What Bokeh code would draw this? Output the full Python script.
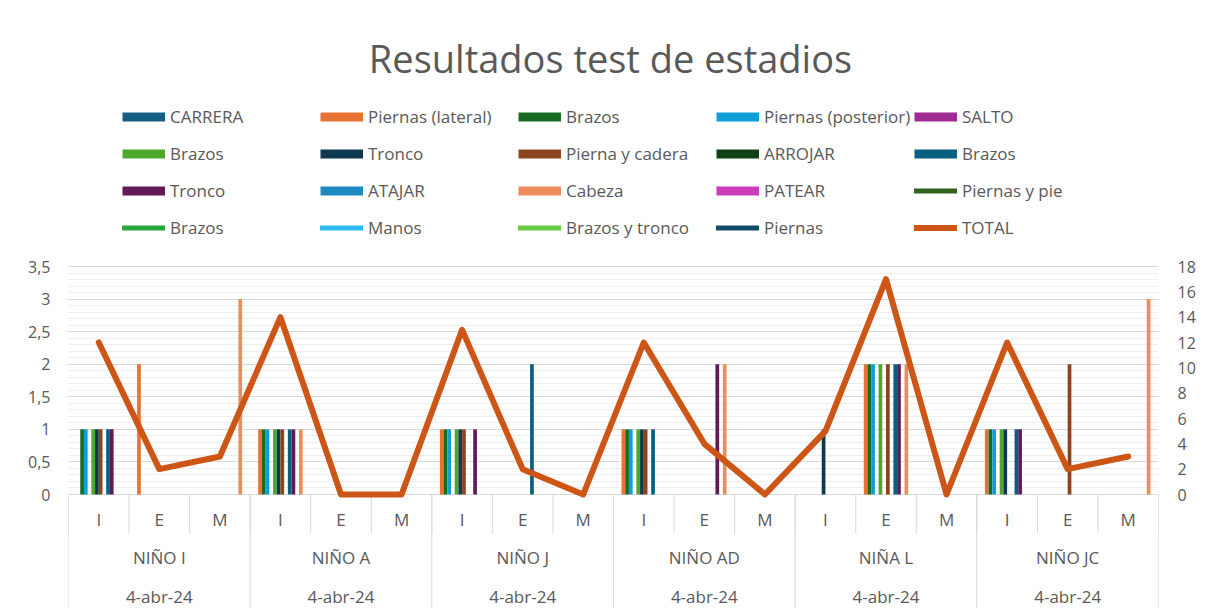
from bokeh.plotting import figure
from bokeh.models import (Range1d, LinearAxis, FixedTicker, Grid, Legend, LegendItem,
                          ColumnDataSource, Label)
from bokeh.core.properties import value
from bokeh.transform import dodge
from bokeh.embed import file_html
from bokeh.resources import INLINE

# ---------------- data ----------------
title_text = "Resultados test de estadios"
children = ["NIÑO I", "NIÑO A", "NIÑO J", "NIÑO AD", "NIÑA L", "NIÑO JC"]
dates = ["4-abr-24", "4-abr-24", "4-abr-24", "4-abr-24", "4-abr-24", "4-abr-24"]
stages = ["I", "E", "M"]

bar_names = ["CARRERA", "Piernas (lateral)", "Brazos", "Piernas (posterior)", "SALTO",
             "Brazos", "Tronco", "Pierna y cadera", "ARROJAR", "Brazos",
             "Tronco", "ATAJAR", "Cabeza", "PATEAR"]
bar_colors = ["#156082", "#E97132", "#196B24", "#0F9ED5", "#A02B93",
              "#4EA72E", "#0D3A4E", "#8C441E", "#0F4016", "#095F80",
              "#601A58", "#1F89C1", "#EE8D5B", "#CB3DBB"]

#                I  E  M   I  E  M   I  E  M   I  E  M   I  E  M   I  E  M
carrera       = [0, 0, 0,  0, 0, 0,  0, 0, 0,  0, 0, 0,  0, 0, 0,  0, 0, 0]
piernas_lat   = [0, 2, 0,  1, 0, 0,  1, 0, 0,  1, 0, 0,  0, 2, 0,  1, 0, 0]
brazos_1      = [1, 0, 0,  1, 0, 0,  1, 0, 0,  1, 0, 0,  0, 2, 0,  1, 0, 0]
piernas_post  = [1, 0, 0,  1, 0, 0,  1, 0, 0,  1, 0, 0,  0, 2, 0,  1, 0, 0]
salto         = [0, 0, 0,  0, 0, 0,  0, 0, 0,  0, 0, 0,  0, 0, 0,  0, 0, 0]
brazos_2      = [1, 0, 0,  1, 0, 0,  1, 0, 0,  1, 0, 0,  0, 2, 0,  1, 0, 0]
tronco_1      = [1, 0, 0,  1, 0, 0,  1, 0, 0,  1, 0, 0,  1, 0, 0,  1, 0, 0]
pierna_cadera = [1, 0, 0,  1, 0, 0,  1, 0, 0,  1, 0, 0,  0, 2, 0,  0, 2, 0]
arrojar       = [0, 0, 0,  0, 0, 0,  0, 0, 0,  0, 0, 0,  0, 0, 0,  0, 0, 0]
brazos_3      = [1, 0, 0,  1, 0, 0,  0, 2, 0,  1, 0, 0,  0, 2, 0,  1, 0, 0]
tronco_2      = [1, 0, 0,  1, 0, 0,  1, 0, 0,  0, 2, 0,  0, 2, 0,  1, 0, 0]
atajar        = [0, 0, 0,  0, 0, 0,  0, 0, 0,  0, 0, 0,  0, 0, 0,  0, 0, 0]
cabeza        = [0, 0, 3,  1, 0, 0,  0, 0, 0,  0, 2, 0,  0, 2, 0,  0, 0, 3]
patear        = [0, 0, 0,  0, 0, 0,  0, 0, 0,  0, 0, 0,  0, 0, 0,  0, 0, 0]
bar_series = [carrera, piernas_lat, brazos_1, piernas_post, salto, brazos_2, tronco_1,
              pierna_cadera, arrojar, brazos_3, tronco_2, atajar, cabeza, patear]

line_names = ["Piernas y pie", "Brazos", "Manos", "Brazos y tronco", "Piernas"]
line_colors = ["#2F641C", "#28A839", "#2DBAF0", "#68CC45", "#114D68"]
nan = float("nan")
piernas_y_pie   = [nan] * 18
brazos_line     = [nan] * 18
manos           = [nan] * 18
brazos_tronco   = [nan] * 18
piernas_line    = [nan] * 18
line_series = [piernas_y_pie, brazos_line, manos, brazos_tronco, piernas_line]

total = [12, 2, 3, 14, 0, 0, 13, 2, 0, 12, 4, 0, 5, 17, 0, 12, 2, 3]
total_color = "#CD5516"

left_ticks = [0, 0.5, 1, 1.5, 2, 2.5, 3, 3.5]
left_labels = ["0", "0,5", "1", "1,5", "2", "2,5", "3", "3,5"]
right_ticks = [0, 2, 4, 6, 8, 10, 12, 14, 16, 18]
right_labels = ["0", "2", "4", "6", "8", "10", "12", "14", "16", "18"]
left_max, right_max = 3.5, 18

# ---------------- layout (pixels) ----------------
W, H = 1202, 608
B_LEFT, B_RIGHT = 68, 44
PLOT_H = 228      # value area height
ABOVE = 266       # room above the value area for title + legend
BELOW = 114       # room below for the three-level category boxes
ppu_l = PLOT_H / left_max
ppu_r = PLOT_H / right_max

n_cat = len(children) * len(stages)
cat_x = [i + 0.5 for i in range(n_cat)]
stage_labels = [stages[i % 3] for i in range(n_cat)]
group_x = [3 * g + 1.5 for g in range(len(children))]
bounds_all = list(range(n_cat + 1))
bounds_group = list(range(0, n_cat + 1, 3))

src = {"x": cat_x, "total": total}
for k, s in enumerate(bar_series):
    src[f"b{k}"] = s
for k, s in enumerate(line_series):
    src[f"l{k}"] = s
source = ColumnDataSource(src)

FONT = "Open Sans"
TXT = "#595959"
SEP = "#D9D9D9"

p = figure(width=W, height=H,
           x_range=Range1d(0, n_cat),
           y_range=Range1d(-BELOW / ppu_l, (PLOT_H + ABOVE) / ppu_l),
           x_axis_location=None, y_axis_location=None,
           output_backend="svg", toolbar_location=None,
           min_border_left=B_LEFT, min_border_right=B_RIGHT, min_border_top=0,
           min_border_bottom=0)
p.extra_y_ranges = {"right": Range1d(-BELOW / ppu_r, (PLOT_H + ABOVE) / ppu_r)}
p.center = [r for r in p.center if not isinstance(r, Grid)]
p.outline_line_color = None
p.background_fill_color = "white"
p.border_fill_color = "white"

left_ticker = FixedTicker(ticks=left_ticks,
                          minor_ticks=[round(0.1 * i, 1) for i in range(36)])
grid = Grid(dimension=1, ticker=left_ticker, grid_line_color=SEP, grid_line_width=1,
            minor_grid_line_color="#EEEEEE", minor_grid_line_width=1, level="underlay")
p.add_layout(grid)

# category boxes below the value area
stage_sep_len = 39 / ppu_l
p.segment(x0=bounds_all, y0=[0] * len(bounds_all), x1=bounds_all,
          y1=[-stage_sep_len] * len(bounds_all), line_color=SEP, line_width=1)
p.segment(x0=bounds_group, y0=[0] * len(bounds_group), x1=bounds_group,
          y1=[-BELOW / ppu_l] * len(bounds_group), line_color=SEP, line_width=1)
lab_kw = dict(text_font=value(FONT), text_font_size=value("17px"), text_color=TXT,
              text_align="center", text_baseline="middle")
p.text(x=cat_x, y=[-25 / ppu_l] * n_cat, text=stage_labels, **lab_kw)
p.text(x=group_x, y=[-63 / ppu_l] * len(group_x), text=children, **lab_kw)
p.text(x=group_x, y=[-102 / ppu_l] * len(group_x), text=dates, **lab_kw)

# bars
sw = 0.0612
nb = len(bar_series)
for k in range(nb):
    off = (k - (nb - 1) / 2) * sw
    p.vbar(x=dodge("x", off), top=f"b{k}", width=sw, bottom=0, source=source,
           fill_color=bar_colors[k], line_color=None)

# line series without visible segments (primary axis)
line_renderers = []
for k in range(len(line_series)):
    r = p.line(x="x", y=f"l{k}", source=source, line_color=line_colors[k], line_width=5,
               line_cap="round", line_join="round")
    line_renderers.append(r)

# TOTAL on secondary axis
tot_r = p.line(x="x", y="total", source=source, y_range_name="right",
               line_color=total_color, line_width=6, line_join="round", line_cap="round")

# legend swatches for bar series
bar_proxies = []
for k in range(nb):
    r = p.line(x=[nan, nan], y=[nan, nan], line_color=bar_colors[k], line_width=9,
               line_cap="butt")
    bar_proxies.append(r)

items = [LegendItem(label=bar_names[k], renderers=[bar_proxies[k]]) for k in range(nb)]
items += [LegendItem(label=line_names[k], renderers=[line_renderers[k]]) for k in range(len(line_names))]
items += [LegendItem(label="TOTAL", renderers=[tot_r])]

legend = Legend(items=items, orientation="horizontal", ncols=5, location=(54, 362),
                glyph_width=43, glyph_height=37, label_height=37, label_width=150,
                label_standoff=5, spacing=0, padding=0, margin=0,
                border_line_color=None, background_fill_alpha=0,
                label_text_font=FONT, label_text_font_size="17px", label_text_color=TXT)
p.add_layout(legend)

p.add_layout(Label(x=542, y=551, x_units="screen", y_units="screen", text=title_text,
                   text_align="center", text_baseline="alphabetic", text_font=FONT,
                   text_font_size="38px", text_color=TXT))

# y axes
yl = LinearAxis(ticker=FixedTicker(ticks=left_ticks),
                major_label_overrides=dict(zip(left_ticks, left_labels)))
yr = LinearAxis(y_range_name="right", ticker=FixedTicker(ticks=right_ticks),
                major_label_overrides=dict(zip(right_ticks, right_labels)))
for ax, so in ((yl, 18), (yr, 19)):
    ax.axis_line_color = None
    ax.major_tick_line_color = None
    ax.minor_tick_line_color = None
    ax.major_tick_out = 0
    ax.major_tick_in = 0
    ax.major_label_standoff = so
    ax.major_label_text_font = FONT
    ax.major_label_text_font_size = "16px"
    ax.major_label_text_color = TXT
p.add_layout(yl, "left")
p.add_layout(yr, "right")

open("out.html", "w").write(file_html(p, INLINE))
